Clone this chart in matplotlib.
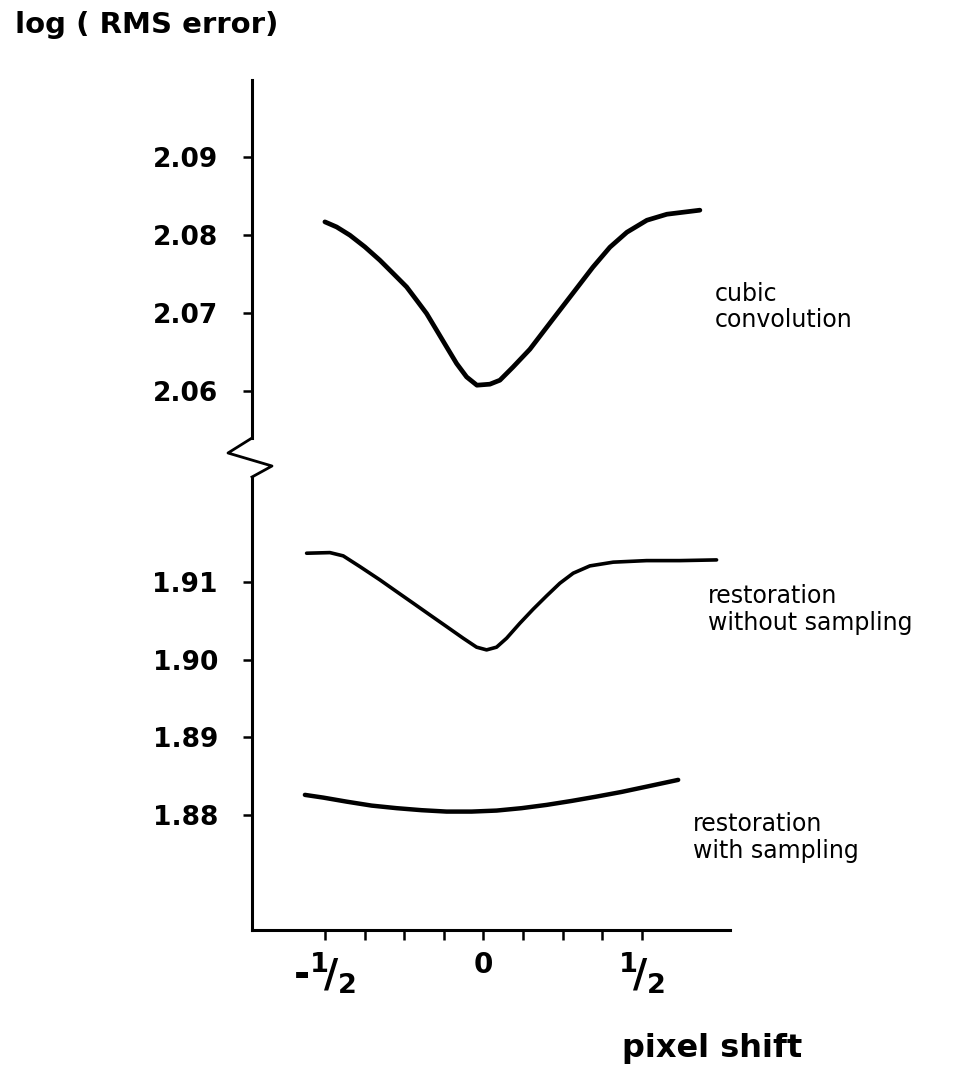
import matplotlib
matplotlib.use("Agg")
import matplotlib.pyplot as plt
from matplotlib.lines import Line2D

# data (x = pixel shift, y = log RMS error)
cubic_x = [-0.5000, -0.4631, -0.4211, -0.3738, -0.3265, -0.2845, -0.2423,
           -0.2107, -0.1792, -0.1476, -0.1161, -0.0845, -0.0530, -0.0205,
           0.0205, 0.0521, 0.0931, 0.1467, 0.2192, 0.2823, 0.3454, 0.3991,
           0.4527, 0.5158, 0.5789, 0.6830]
cubic_y = [2.08171, 2.08106, 2.08000, 2.07850, 2.07679, 2.07509, 2.07337,
           2.07167, 2.06996, 2.06782, 2.06568, 2.06355, 2.06183, 2.06077,
           2.06090, 2.06141, 2.06308, 2.06538, 2.06923, 2.07256, 2.07590,
           2.07846, 2.08038, 2.08192, 2.08269, 2.08321]

nosamp_x = [-0.5577, -0.4842, -0.4423, -0.3896, -0.3265, -0.2738, -0.2215,
            -0.1688, -0.1161, -0.0637, -0.0215, 0.0101, 0.0416, 0.0732,
            0.1151, 0.1571, 0.1994, 0.2413, 0.2833, 0.3360, 0.4095, 0.5148,
            0.6199, 0.7356]
nosamp_y = [1.91369, 1.91377, 1.91335, 1.91197, 1.91026, 1.90875, 1.90726,
            1.90575, 1.90425, 1.90275, 1.90160, 1.90125, 1.90160, 1.90275,
            1.90468, 1.90649, 1.90820, 1.90983, 1.91112, 1.91206, 1.91254,
            1.91274, 1.91274, 1.91283]

samp_x = [-0.5631, -0.5053, -0.4316, -0.3527, -0.2738, -0.1950, -0.1161,
          -0.0372, 0.0416, 0.1205, 0.1994, 0.2782, 0.3571, 0.4360, 0.5148,
          0.6145]
samp_y = [1.88259, 1.88224, 1.88172, 1.88121, 1.88088, 1.88062, 1.88044,
          1.88044, 1.88057, 1.88088, 1.88130, 1.88181, 1.88237, 1.88297,
          1.88365, 1.88452]

upper_ticks = [2.06, 2.07, 2.08, 2.09]
lower_ticks = [1.88, 1.89, 1.90, 1.91]
x_major = [-0.5, 0, 0.5]
x_major_labels = [r'-$^{\mathbf{1}}\!\mathbf{/}_{\mathbf{2}}$', '0',
                  r'$^{\mathbf{1}}\!\mathbf{/}_{\mathbf{2}}$']
x_minor = [-0.375, -0.25, -0.125, 0.125, 0.25, 0.375]

W, H = 964, 1072
fig = plt.figure(figsize=(W / 100, H / 100), dpi=100)


def rect(x0, y0, x1, y1):
    # pixel box -> figure fraction
    return [x0 / W, 1 - y1 / H, (x1 - x0) / W, (y1 - y0) / H]


ax_top = fig.add_axes(rect(252, 80, 730, 438))
ax_bot = fig.add_axes(rect(252, 477, 730, 930))

line_kw = dict(color='black', solid_capstyle='round', solid_joinstyle='round')
ax_top.plot(cubic_x, cubic_y, lw=3.4, **line_kw)
ax_bot.plot(nosamp_x, nosamp_y, lw=2.6, **line_kw)
ax_bot.plot(samp_x, samp_y, lw=3.2, **line_kw)

for ax in (ax_top, ax_bot):
    ax.set_xlim(-0.730, 0.778)
    for s in ('top', 'right'):
        ax.spines[s].set_visible(False)
    ax.spines['left'].set_linewidth(2.2)
    ax.tick_params(axis='y', length=6.5, width=1.8, pad=18, labelsize=19)

ax_top.set_ylim(2.0540, 2.0999)
ax_top.set_yticks(upper_ticks)
ax_top.set_yticklabels([f'{v:.2f}' for v in upper_ticks], fontweight='bold')
ax_top.spines['bottom'].set_visible(False)
ax_top.set_xticks([])

ax_bot.set_ylim(1.8652, 1.9235)
ax_bot.set_yticks(lower_ticks)
ax_bot.set_yticklabels([f'{v:.2f}' for v in lower_ticks], fontweight='bold')
ax_bot.spines['bottom'].set_linewidth(2.2)
ax_bot.set_xticks(x_major)
ax_bot.set_xticklabels(x_major_labels, fontweight='bold')
ax_bot.set_xticks(x_minor, minor=True)
ax_bot.tick_params(axis='x', which='both', length=7, width=1.8, pad=8)
labs = ax_bot.get_xticklabels()
labs[0].set_fontsize(28)
labs[1].set_fontsize(20)
labs[2].set_fontsize(28)

# zigzag break on the y axis
zx = [252, 228, 272, 252]
zy = [438, 453, 466, 477]
fig.add_artist(Line2D([v / W for v in zx], [1 - v / H for v in zy],
                      color='black', lw=2.0))

# curve labels
ax_top.text(0.730, 2.0708, 'cubic\nconvolution', fontsize=17, va='center',
            ha='left', linespacing=1.15, clip_on=False)
ax_bot.text(0.708, 1.9064, 'restoration\nwithout sampling', fontsize=17,
            va='center', ha='left', linespacing=1.15, clip_on=False)
ax_bot.text(0.661, 1.8771, 'restoration\nwith sampling', fontsize=17,
            va='center', ha='left', linespacing=1.15, clip_on=False)

fig.text(15 / W, 1 - 33 / H, 'log ( RMS error)', fontsize=21,
         fontweight='bold', va='baseline', ha='left')
fig.text(622 / W, 1 - 1057 / H, 'pixel shift', fontsize=23,
         fontweight='bold', va='baseline', ha='left')

fig.savefig('out.png', dpi=100)
